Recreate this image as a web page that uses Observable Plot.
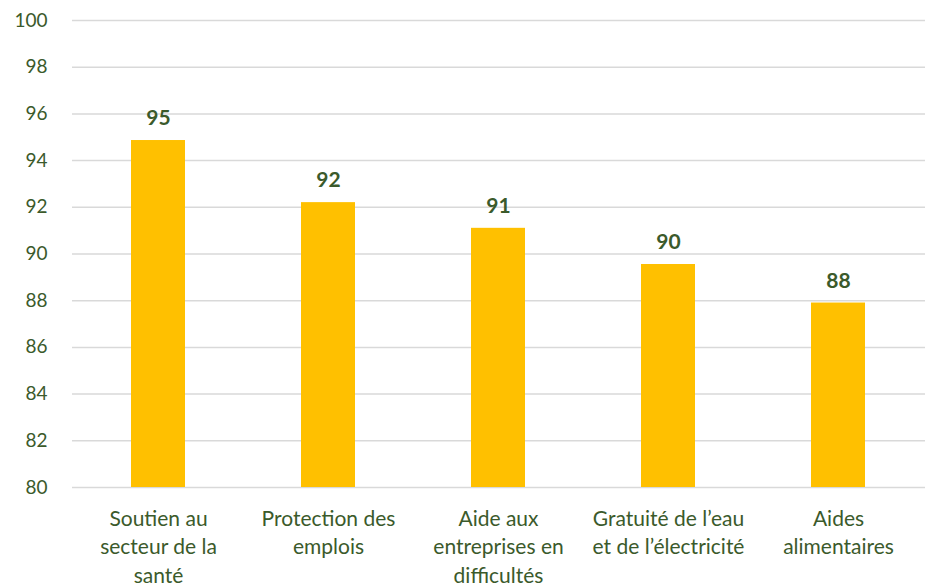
<!DOCTYPE html>
<html>
<head>
<meta charset="utf-8">
<script src="https://cdn.jsdelivr.net/npm/d3@7"></script>
<script src="https://cdn.jsdelivr.net/npm/@observablehq/plot@0.6"></script>
<style>
  html, body { margin: 0; padding: 0; background: #fff; }
  #chart { width: 925px; height: 586px; }
</style>
</head>
<body>
<div id="chart"></div>
<script>
const categories = [
  "Soutien au\nsecteur de la\nsanté",
  "Protection des\nemplois",
  "Aide aux\nentreprises en\ndifficultés",
  "Gratuité de l’eau\net de l’électricité",
  "Aides\nalimentaires"
];
const values = [94.86, 92.2, 91.1, 89.55, 87.9];
const labels = ["95", "92", "91", "90", "88"];
const yTicks = [80, 82, 84, 86, 88, 90, 92, 94, 96, 98, 100];

const data = categories.map((c, i) => ({category: c, value: values[i], label: labels[i]}));
const textColor = "#3b5a2b";

const chart = Plot.plot({
  width: 925,
  height: 586,
  marginLeft: 72,
  marginRight: 0,
  marginTop: 20,
  marginBottom: 99,
  style: {fontFamily: "Lato, 'Open Sans', sans-serif", fontSize: "19px", color: textColor, background: "#fff"},
  x: {domain: categories, paddingInner: 0.68, paddingOuter: 0.34, label: null},
  y: {domain: [80, 100], label: null},
  marks: [
    Plot.gridY(yTicks, {stroke: "#d9d9d9", strokeOpacity: 1, strokeWidth: 1.5}),
    Plot.axisY(yTicks, {tickSize: 0, tickPadding: 25, label: null, fontSize: 19, fill: textColor}),
    Plot.axisX({tickSize: 0, tickPadding: 18, label: null, fontSize: 21, lineHeight: 1.36, fill: textColor}),
    Plot.barY(data, {x: "category", y1: () => 80, y2: "value", fill: "#ffc000"}),
    Plot.text(data, {x: "category", y: "value", text: "label", dy: -22, fontWeight: "bold", fontSize: 21, fill: textColor})
  ]
});
document.getElementById("chart").appendChild(chart);
</script>
</body>
</html>
